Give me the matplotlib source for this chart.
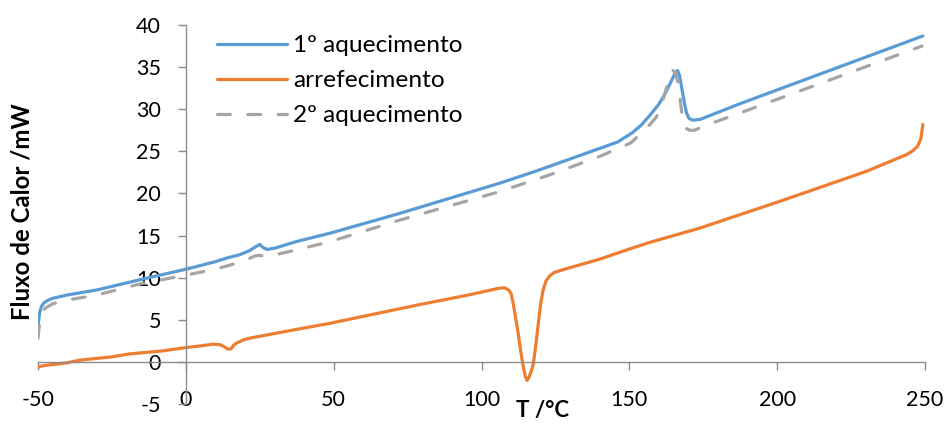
import matplotlib
matplotlib.use("Agg")
import matplotlib.pyplot as plt

plt.rcParams['font.family'] = ['Lato', 'DejaVu Sans']
plt.rcParams['axes.unicode_minus'] = False

# 1st heating run
t_heat1 = [-50, -49.5, -48.8, -48.0, -46.5, -45, -40, -30, -15, 0, 10, 14, 18, 21.5,
           24, 25, 26, 27.5, 30, 37.5, 49, 72, 106, 118, 134, 146, 151, 154, 157,
           160, 162, 164, 165.5, 166.3, 167, 167.8, 168.6, 169.3, 170.2, 171.5,
           174, 187, 249.3]
q_heat1 = [4.2, 5.8, 6.6, 7.0, 7.35, 7.55, 7.95, 8.55, 9.8, 11.0, 11.9, 12.35, 12.7, 13.2,
           13.75, 13.95, 13.6, 13.35, 13.5, 14.3, 15.3, 17.6, 21.2, 22.6, 24.6, 26.1,
           27.2, 28.1, 29.3, 30.6, 31.8, 33.2, 34.3, 34.6, 34.0, 32.4, 30.8, 29.6,
           28.9, 28.7, 28.8, 30.6, 38.7]

# cooling run
t_cool = [-49.5, -49, -47, -40, -36, -25, -19, -8, 0, 5, 9, 11.5, 13, 14.3, 15.3,
          16.2, 17.5, 19.4, 22, 26, 35, 49, 64, 79, 95, 106, 107.8, 109.3, 110,
          110.7, 111.5, 112.4, 113.2, 114.1, 114.8, 115.4, 116.1, 116.8, 117.5,
          118.3, 119.1, 119.9, 120.8, 121.8, 123, 124.5, 127.6, 140, 150, 157, 174,
          202, 230, 243.7, 246, 247.5, 248.6, 249.3]
q_cool = [-0.6, -0.5, -0.4, -0.1, 0.2, 0.6, 0.95, 1.3, 1.7, 1.9, 2.1, 2.05, 1.8, 1.5,
          1.55, 2.0, 2.3, 2.6, 2.85, 3.1, 3.7, 4.6, 5.7, 6.8, 7.9, 8.75, 8.8, 8.5,
          8.1, 7.0, 5.3, 3.4, 1.4, -0.5, -1.7, -2.2, -1.8, -1.1, -0.3, 1.8, 4.2,
          6.6, 8.5, 9.6, 10.2, 10.6, 10.95, 12.2, 13.4, 14.2, 15.9, 19.2, 22.6,
          24.6, 25.1, 25.6, 26.5, 28.2]

# 2nd heating run
t_heat2 = [-50, -49.5, -48.8, -47.5, -45, -40, -30, -15, 0, 10, 17, 21, 23.5, 25, 27,
           30, 37.5, 49, 72, 106, 123, 140, 150.5, 156, 159.2, 161, 162.6, 163.8,
           164.8, 165.6, 166.5, 167.1, 167.6, 168.3, 169.3, 170.5, 172, 176, 187, 249]
q_heat2 = [2.8, 4.5, 5.8, 6.4, 6.9, 7.35, 7.95, 9.3, 10.3, 11.0, 11.7, 12.2, 12.6,
           12.65, 12.5, 12.7, 13.3, 14.3, 16.8, 20.2, 22.2, 24.4, 26.0, 27.8, 29.1,
           30.6, 32.6, 33.9, 34.6, 34.3, 33.1, 31.5, 29.9, 28.4, 27.7, 27.5, 27.5,
           28.1, 29.5, 37.5]

labels = ['1º aquecimento', 'arrefecimento', '2º aquecimento']
x_ticks = [-50, 0, 50, 100, 150, 200, 250]
y_ticks = [-5, 0, 5, 10, 15, 20, 25, 30, 35, 40]

W, H = 949, 426
fig = plt.figure(figsize=(W / 100, H / 100), dpi=100)
ax = fig.add_axes([38 / W, 22 / H, 887 / W, 379 / H])

lw = 2.3
ax.plot(t_heat1, q_heat1, color='#5B9BD5', lw=lw, solid_joinstyle='round',
        solid_capstyle='round', label=labels[0])
ax.plot(t_cool, q_cool, color='#ED7D31', lw=lw, solid_joinstyle='round',
        solid_capstyle='round', label=labels[1])
ax.plot(t_heat2, q_heat2, color='#A5A5A5', lw=lw, dashes=(4, 5.5),
        dash_capstyle='round', dash_joinstyle='round', label=labels[2])

ax.set_xlim(-50, 250)
ax.set_ylim(-5, 40)
ax.set_xticks(x_ticks)
ax.set_yticks(y_ticks)

for side in ('top', 'right'):
    ax.spines[side].set_visible(False)
ax.spines['left'].set_position(('data', 0))
ax.spines['bottom'].set_position(('data', 0))
for side in ('left', 'bottom'):
    ax.spines[side].set_color('#8c8c8c')
    ax.spines[side].set_linewidth(1.0)

ax.tick_params(axis='both', direction='out', length=6, width=1.0,
               color='#8c8c8c', labelsize=15.5, labelcolor='black')
ax.tick_params(axis='y', pad=12)
ax.tick_params(axis='x', pad=14)

fig.text(22 / W, 1 - 212 / H, 'Fluxo de Calor /mW', rotation=90, ha='center',
         va='center', fontsize=17.3, fontweight='bold')
fig.text(543 / W, 1 - 411 / H, 'T /°C', ha='center', va='center', fontsize=16,
         fontweight='bold')

ax.legend(loc='upper left', bbox_to_anchor=(217 / W, 1 - 35 / H),
          bbox_transform=fig.transFigure, frameon=False, fontsize=17.6,
          handlelength=2.85, handletextpad=0.25, labelspacing=0.57, borderpad=0,
          borderaxespad=0)

fig.savefig('out.png', dpi=100)
